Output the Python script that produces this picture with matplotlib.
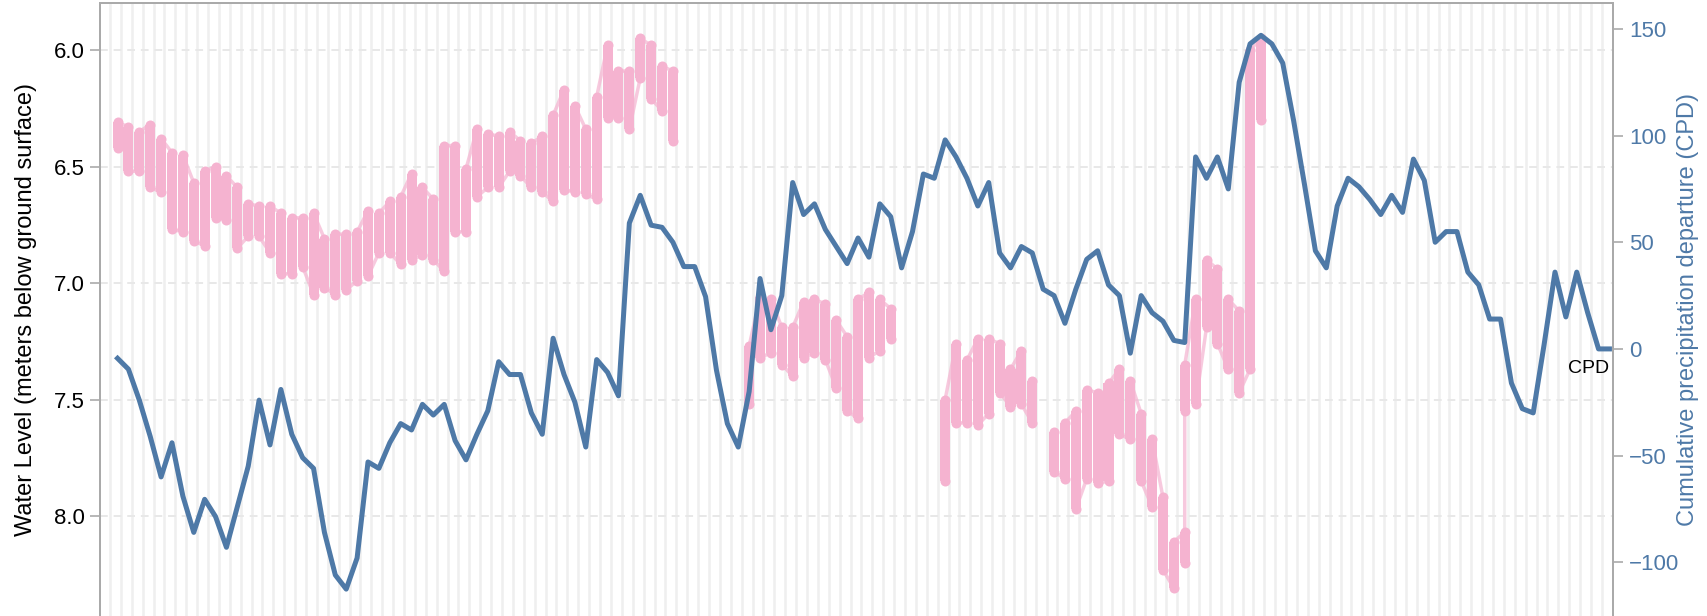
import numpy as np
import matplotlib.pyplot as plt

plt.rcParams['font.family'] = ['Liberation Sans', 'DejaVu Sans']

# monthly cumulative precipitation departure, month 0 = first month of record
cpd = [-4.4, -9.5, -24, -41, -60, -44, -69, -86, -70.5, -78.6,
       -93, -74, -55, -24, -45, -19, -40, -51, -56, -86,
       -106, -112.6, -98, -53, -56, -44, -35, -38, -26, -31,
       -26, -43, -52, -40, -29, -6, -12, -12, -30, -40,
       5, -12, -25, -46, -5, -11, -22, 59, 72, 58,
       57, 50, 38.6, 38.6, 24.5, -10, -35, -46, -20, 33,
       9, 25, 78, 63, 68, 56, 48, 40, 52, 43,
       68, 62, 38, 55, 82, 80, 98, 90, 80, 67,
       78, 45, 38, 48, 45, 28, 25, 12, 28, 42,
       46, 30, 25, -2, 25, 17, 13, 4, 3, 90,
       80, 90, 75, 125, 143, 147, 143, 134, 107, 77,
       46, 38, 67, 80, 76, 70, 63, 72, 64, 89,
       79, 50, 55, 55, 36, 30, 14, 14, -16, -28,
       -30, 2, 36, 15, 36, 17, 0, 0]
cpd_month = np.arange(len(cpd))

# water level: range of readings within each month (m below ground surface)
wl_month = [0, 1, 2, 3, 4, 5, 6, 7, 8, 9, 10, 11, 12, 13, 14, 15, 16, 17, 18, 19,
            20, 21, 22, 23, 24, 25, 26, 27, 28, 29, 30, 31, 32, 33, 34, 35, 36, 37, 38, 39,
            40, 41, 42, 43, 44, 45, 46, 47, 48, 49, 50, 51,
            58, 59, 60, 61, 62, 63, 64, 65, 66, 67, 68, 69, 70, 71,
            76, 77, 78, 79, 80, 81, 82, 83, 84,
            86, 87, 88, 89, 90, 91, 92, 93, 94, 95, 96, 97, 98, 98, 99, 100, 101, 102, 103, 104, 105]
wl_top = [6.31, 6.33, 6.35, 6.32, 6.38, 6.44, 6.45, 6.57, 6.52, 6.50, 6.54, 6.59, 6.66, 6.67, 6.67, 6.70, 6.72, 6.72, 6.70, 6.81,
          6.79, 6.79, 6.78, 6.69, 6.70, 6.65, 6.63, 6.53, 6.59, 6.64, 6.41, 6.41, 6.51, 6.34, 6.36, 6.37, 6.35, 6.39, 6.40, 6.37,
          6.28, 6.17, 6.24, 6.34, 6.20, 5.98, 6.09, 6.09, 5.95, 5.98, 6.07, 6.09,
          7.27, 7.06, 7.07, 7.19, 7.19, 7.08, 7.07, 7.09, 7.16, 7.23, 7.07, 7.04, 7.07, 7.11,
          7.50, 7.26, 7.33, 7.24, 7.24, 7.26, 7.37, 7.29, 7.42,
          7.64, 7.60, 7.55, 7.46, 7.47, 7.43, 7.37, 7.42, 7.56, 7.67, 7.92, 8.11, 8.07, 7.35, 7.07, 6.90, 6.94, 7.07, 7.12, 6.00, 5.95]
wl_bottom = [6.42, 6.52, 6.52, 6.59, 6.61, 6.77, 6.78, 6.82, 6.84, 6.72, 6.73, 6.85, 6.80, 6.80, 6.87, 6.96, 6.96, 6.93, 7.05, 7.02,
             7.05, 7.03, 6.99, 6.97, 6.87, 6.87, 6.92, 6.90, 6.88, 6.90, 6.95, 6.78, 6.78, 6.63, 6.59, 6.59, 6.52, 6.54, 6.59, 6.61,
             6.65, 6.60, 6.61, 6.62, 6.64, 6.29, 6.29, 6.34, 6.12, 6.21, 6.26, 6.39,
             7.52, 7.32, 7.30, 7.35, 7.40, 7.32, 7.30, 7.33, 7.45, 7.55, 7.58, 7.32, 7.29, 7.24,
             7.85, 7.60, 7.60, 7.61, 7.56, 7.47, 7.53, 7.52, 7.60,
             7.81, 7.84, 7.97, 7.84, 7.86, 7.85, 7.65, 7.67, 7.85, 7.96, 8.23, 8.31, 8.20, 7.55, 7.52, 7.19, 7.26, 7.37, 7.47, 7.37, 6.30]

pink = '#f5b3d0'
blue = '#4e79a7'
spine_grey = '#aaaaaa'

fig = plt.figure(figsize=(17.08, 6.16), dpi=100)
ax = fig.add_axes([100 / 1708, 0, 1512.7 / 1708, 1 - 2.7 / 616])
ax2 = ax.twinx()

# month boundaries as vertical grid
month_edges = np.arange(len(cpd)) - 0.69
ax.set_xticks(month_edges)
ax.tick_params(axis='x', length=0, labelbottom=False)
ax.xaxis.grid(True, color='#efefef', linewidth=1.8, linestyle='-')
ax.yaxis.grid(True, color='#e8e8e8', linewidth=1.4, linestyle=(0, (4, 3)))
ax.set_axisbelow(True)

# faint line joining the readings in time order, broken at gaps
xs, ys = [], []
for k, (m, t, b) in enumerate(zip(wl_month, wl_top, wl_bottom)):
    if k > 0 and m - wl_month[k - 1] > 1:
        xs.append(np.nan)
        ys.append(np.nan)
    pair = (b, t) if k % 2 == 0 else (t, b)
    xs += [m, m]
    ys += list(pair)
ax.plot(xs, ys, color=pink, linewidth=2.5, alpha=0.7, zorder=2)

# each month's readings: a bar of the range with round dots at both ends
col_w = 0.92
ax.bar(wl_month, np.array(wl_bottom) - np.array(wl_top), bottom=wl_top,
       width=col_w, color=pink, linewidth=0, zorder=3)
dot_pt = col_w * 1512.7 / 138.91 * 72 / 100
ax.scatter(wl_month + wl_month, wl_top + wl_bottom, s=dot_pt ** 2,
           color=pink, linewidths=0, zorder=3)

ax.set_xlim(-1.61, 137.3)
ax.set_ylim(8.429, 5.797)
ax.set_yticks([6.0, 6.5, 7.0, 7.5, 8.0])
ax.set_yticklabels(['6.0', '6.5', '7.0', '7.5', '8.0'])
ax.tick_params(axis='y', labelsize=16, colors=spine_grey, labelcolor='black',
               length=7, width=1.2, pad=4)
ax.set_ylabel('Water Level (meters below ground surface)', fontsize=17)
ax.yaxis.set_label_coords(-0.0416, 0.5)

ax2.plot(cpd_month, cpd, color=blue, linewidth=3.6, solid_joinstyle='round', zorder=4)
ax2.set_ylim(-125.2, 162.3)
ax2.set_yticks([150, 100, 50, 0, -50, -100])
ax2.tick_params(axis='y', labelsize=16, colors=spine_grey, labelcolor=blue,
                length=7, width=1.2, pad=5)
ax2.set_ylabel('Cumulative precipitation departure (CPD)', fontsize=17, color=blue)
ax2.yaxis.set_label_coords(1.0425, 0.5)
ax2.text(cpd_month[-1], cpd[-1] - 5, 'CPD', fontsize=14, ha='right', va='top')

for a in (ax, ax2):
    a.spines['bottom'].set_visible(False)
    for s in ('left', 'right', 'top'):
        a.spines[s].set_color(spine_grey)
        a.spines[s].set_linewidth(1.3)

fig.savefig('out.png', dpi=100)
